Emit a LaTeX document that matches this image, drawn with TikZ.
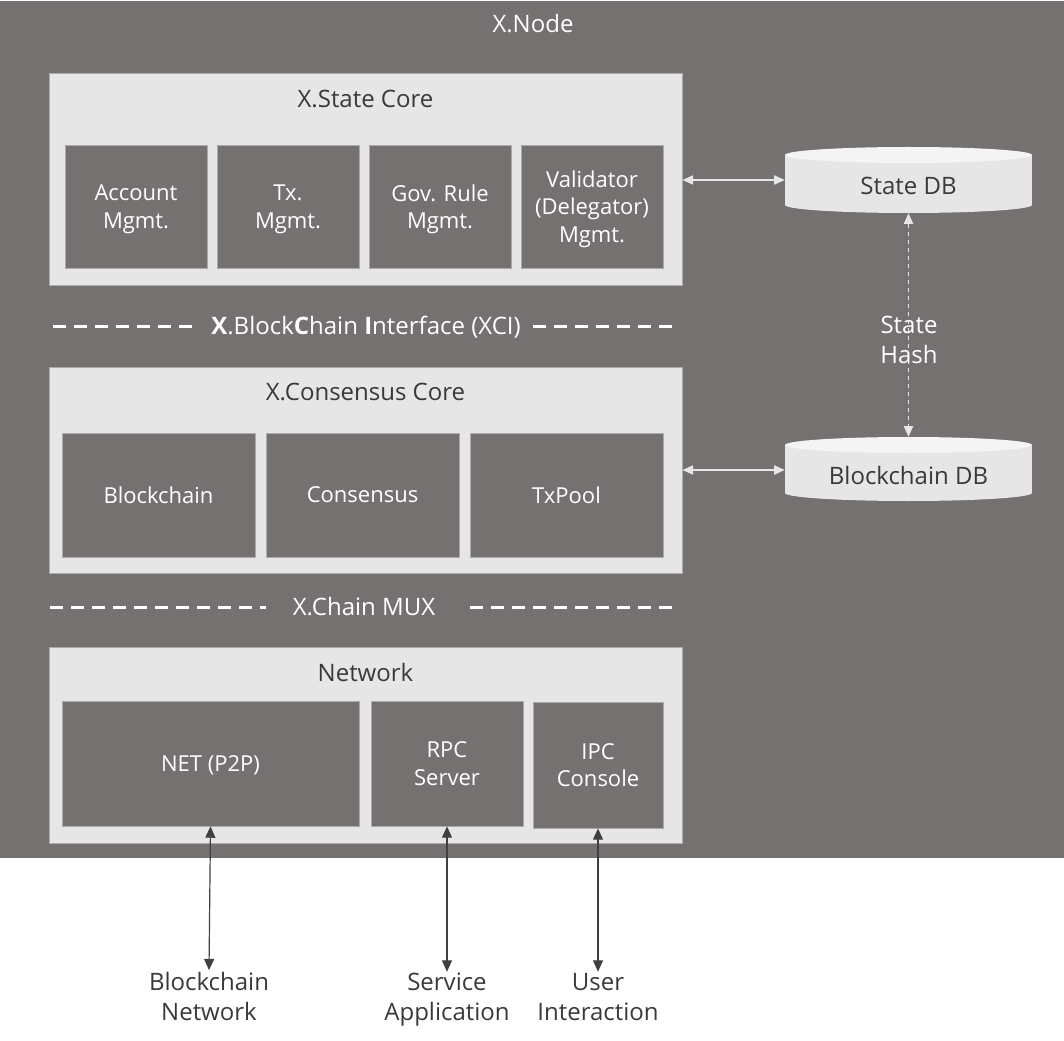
\documentclass[tikz,border=0pt]{standalone}
\usepackage{fontspec}
\setmainfont{Open Sans}
\usetikzlibrary{arrows.meta}
\definecolor{nodegray}{HTML}{767171}
\definecolor{boxgray}{HTML}{E7E6E6}
\definecolor{capgray}{HTML}{F4F4F4}
\definecolor{textgray}{HTML}{3B3838}
\definecolor{arrowgray}{HTML}{404040}
\definecolor{edgegray}{HTML}{AEAAAA}

\begin{document}
\begin{tikzpicture}[x=0.75pt, y=-0.75pt,
	core/.style={draw=edgegray, line width=0.75pt, fill=boxgray, inner sep=0pt},
	unit/.style={draw=edgegray, line width=0.6pt, fill=nodegray, text=white, inner sep=0pt, text depth=0pt, align=center, font=\fontsize{16.5}{20.75}\selectfont},
	title/.style={text=textgray, font=\fontsize{18}{22.5}\selectfont},
	whitetext/.style={text=white, align=center, font=\fontsize{18}{22.5}\selectfont},
	outside/.style={text=textgray, align=center, inner sep=1pt, font=\fontsize{18}{22.5}\selectfont},
	dbtext/.style={text=textgray, inner sep=0pt, minimum width=185.25pt, font=\fontsize{18}{22.5}\selectfont},
	sepline/.style={white, line width=2.25pt, dash pattern=on 9.75pt off 6pt},
	link/.style={{Triangle[length=8pt,width=7pt]}-{Triangle[length=8pt,width=7pt]}, boxgray, line width=0.9pt},
	io/.style={{Triangle[length=8.5pt,width=7.5pt]}-{Triangle[length=8.5pt,width=7.5pt]}, arrowgray, line width=0.9pt}]
	\useasboundingbox (0,0) rectangle (1064,1041);
	\fill[nodegray] (0,1) rectangle (1064,858);
	\node[whitetext] (xnode) at (533,24) {X.Node};

	\node[core, minimum width=474.75pt, minimum height=159pt] (statecore) at (365.5,180) {};
	\node[title] (statetitle) at (365.5,99) {X.State Core};
	\node[unit, minimum width=106.5pt, minimum height=92.25pt] (account) at (136,206.5) {Account\\Mgmt.};
	\node[unit, minimum width=106.5pt, minimum height=92.25pt] (txmgmt) at (288,206.5) {Tx.\\Mgmt.};
	\node[unit, minimum width=106.5pt, minimum height=92.25pt] (govrule) at (440,206.5) {Gov. Rule\\Mgmt.};
	\node[unit, minimum width=106.5pt, minimum height=92.25pt] (validator) at (592,206.5) {Validator\\(Delegator)\\Mgmt.};

	\node[whitetext] (xci) at (366,327) {\textbf{X}.Block\textbf{C}hain \textbf{I}nterface (XCI)};
	\draw[sepline] (53,327) -- (192,327);
	\draw[sepline] (533,327) -- (676,327);

	\node[core, minimum width=474.75pt, minimum height=154.5pt] (conscore) at (365.5,470) {};
	\node[title] (constitle) at (365.5,392) {X.Consensus Core};
	\node[unit, minimum width=144.75pt, minimum height=93pt] (blockchain) at (158.5,495) {Blockchain};
	\node[unit, minimum width=144.75pt, minimum height=93pt] (consensus) at (362.5,495) {Consensus};
	\node[unit, minimum width=144.75pt, minimum height=93pt] (txpool) at (566.5,495) {TxPool};

	\node[whitetext] (mux) at (364,607) {X.Chain MUX};
	\draw[sepline] (50,607) -- (266,607);
	\draw[sepline] (470,607) -- (674,607);

	\node[core, minimum width=474.75pt, minimum height=147pt] (netcore) at (365.5,745) {};
	\node[title] (nettitle) at (365.5,672) {Network};
	\node[unit, minimum width=222.75pt, minimum height=93.75pt] (p2p) at (210.5,763.5) {NET (P2P)};
	\node[unit, minimum width=114pt, minimum height=93.75pt] (rpc) at (447,763.5) {RPC\\Server};
	\node[unit, minimum width=97.5pt, minimum height=94.5pt] (ipc) at (598,765) {IPC\\Console};

	\fill[boxgray] (908.5,205) ellipse [x radius=92.625pt, y radius=6pt];
	\fill[boxgray] (785,155) rectangle (1032,205);
	\fill[capgray] (908.5,155) ellipse [x radius=92.625pt, y radius=6pt];
	\node[dbtext, text height=36pt, text depth=13.5pt] (statedb) at (908.5,180) {State DB};

	\fill[boxgray] (908.5,493) ellipse [x radius=92.625pt, y radius=6pt];
	\fill[boxgray] (785,445) rectangle (1032,493);
	\fill[capgray] (908.5,445) ellipse [x radius=92.625pt, y radius=6pt];
	\node[dbtext, text height=35.25pt, text depth=12.75pt] (bcdb) at (908.5,469) {Blockchain DB};

	\draw[link] (statecore.east) -- (statecore.east -| statedb.west);
	\draw[link] (conscore.east) -- (conscore.east -| bcdb.west);
	\draw[link, dashed, line width=0.75pt] (statedb.south) -- (bcdb.north);
	\node[whitetext] (statehash) at (909,340) {State\\Hash};

	\node[outside] (bcnet) at (209,996) {Blockchain\\Network};
	\node[outside] (service) at (447,1000) {Service\\Application};
	\node[outside] (user) at (598,997) {User\\Interaction};
	\draw[io] (p2p.south) -- (bcnet.north);
	\draw[io] (rpc.south) -- (service.north);
	\draw[io] (ipc.south) -- (user.north);
\end{tikzpicture}
\end{document}
